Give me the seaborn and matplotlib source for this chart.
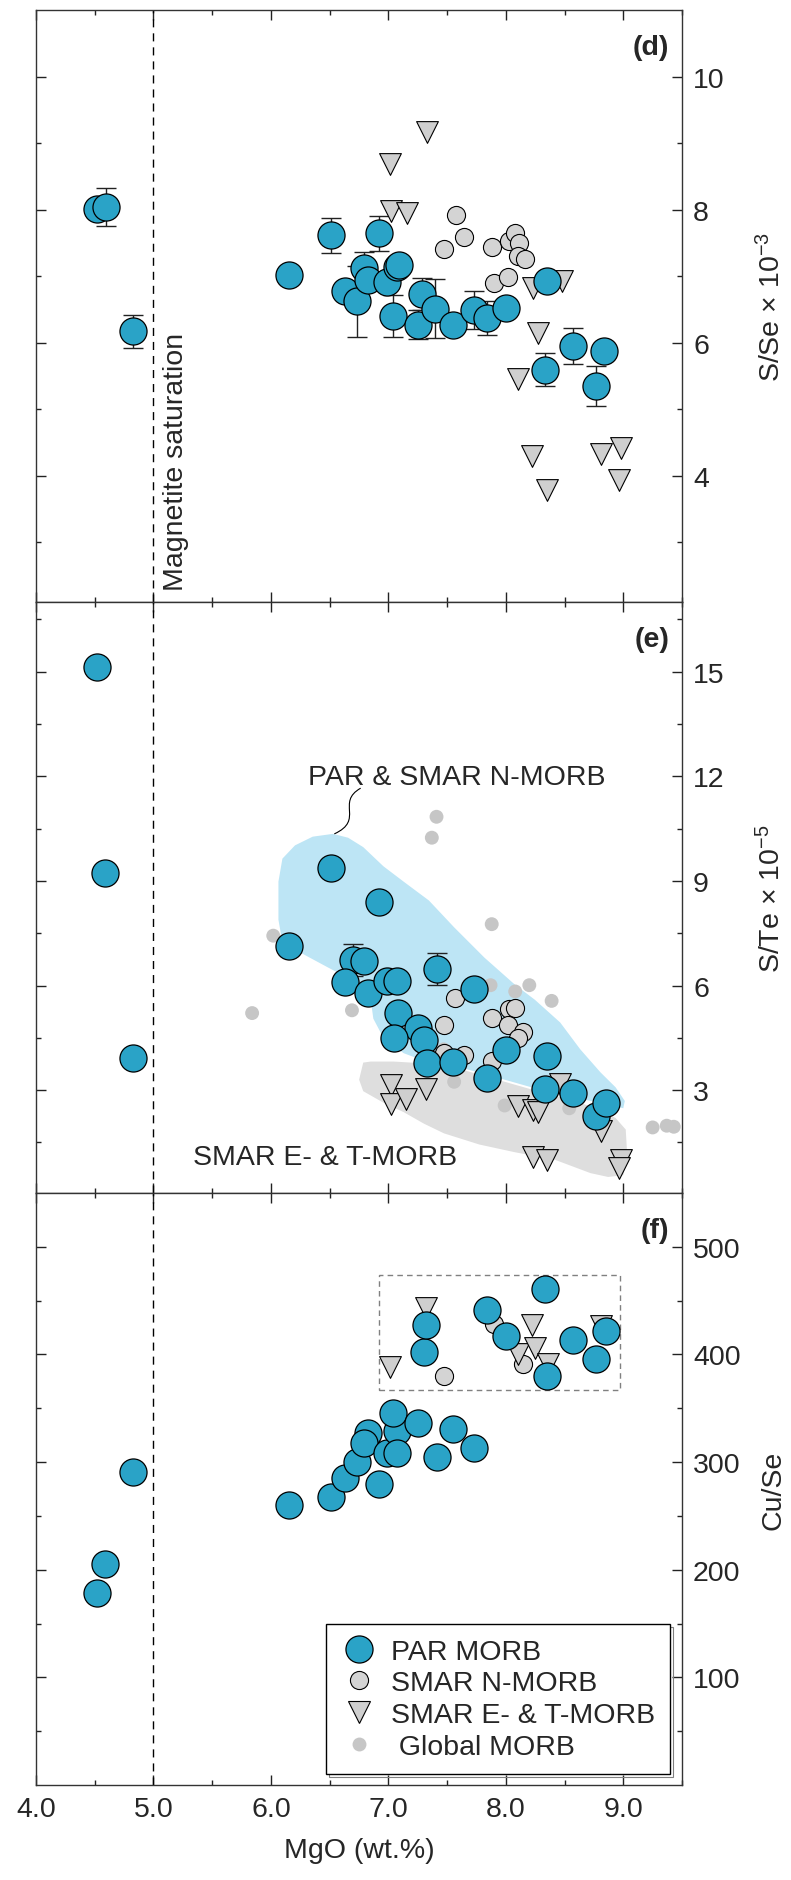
import numpy as np
import matplotlib
matplotlib.use("Agg")
import matplotlib.pyplot as plt
from matplotlib.lines import Line2D
from matplotlib.patches import PathPatch, Rectangle
from matplotlib.path import Path
from matplotlib.ticker import FixedLocator, MultipleLocator, FormatStrFormatter
import seaborn as sns

# ---------------- data ----------------
# (d) S/Se x 10^-3
d_par_mgo = [4.52, 4.60, 4.83, 6.15, 6.51, 6.63, 6.73, 6.79, 6.83, 6.92, 6.99, 7.04, 7.07,
             7.09, 7.25, 7.29, 7.40, 7.55, 7.73, 7.84, 8.00, 8.35, 8.33, 8.57, 8.84, 8.77]
d_par_ratio = [8.01, 8.04, 6.17, 7.01, 7.61, 6.77, 6.62, 7.12, 6.94, 7.64, 6.91, 6.40, 7.13,
               7.16, 6.27, 6.73, 6.51, 6.27, 6.49, 6.37, 6.52, 6.92, 5.59, 5.95, 5.88, 5.35]
d_par_err = [0.0, 0.28, 0.25, 0.0, 0.27, 0.0, 0.53, 0.24, 0.0, 0.27, 0.0, 0.31, 0.0,
             0.0, 0.22, 0.24, 0.44, 0.0, 0.28, 0.25, 0.0, 0.0, 0.25, 0.27, 0.0, 0.30]
d_nmorb_mgo = [7.58, 7.47, 7.64, 7.88, 8.03, 8.08, 8.11, 8.10, 8.16, 7.90, 8.02]
d_nmorb_ratio = [7.92, 7.41, 7.58, 7.43, 7.52, 7.64, 7.50, 7.30, 7.26, 6.90, 6.98]
d_etmorb_mgo = [7.33, 7.01, 7.02, 7.16, 8.23, 8.48, 8.27, 8.10, 8.22, 8.35, 8.81, 8.98, 8.96]
d_etmorb_ratio = [9.17, 8.69, 7.98, 7.95, 6.82, 6.93, 6.14, 5.45, 4.29, 3.79, 4.32, 4.41, 3.94]

# (e) S/Te x 10^-5
e_par_mgo = [4.52, 4.59, 4.83, 6.15, 6.51, 6.92, 6.70, 6.79, 6.63, 6.83, 6.99, 7.07, 7.08,
             7.25, 7.30, 7.05, 7.33, 7.55, 7.41, 7.73, 7.84, 8.00, 8.35, 8.33, 8.57, 8.77, 8.85]
e_par_ratio = [15.15, 9.22, 3.91, 7.12, 9.38, 8.40, 6.74, 6.71, 6.11, 5.79, 6.14, 6.14, 5.21,
               4.77, 4.44, 4.50, 3.79, 3.81, 6.47, 5.90, 3.35, 4.15, 3.98, 3.04, 2.93, 2.26, 2.64]
e_par_err = [0.0, 0.0, 0.0, 0.0, 0.0, 0.0, 0.46, 0.0, 0.0, 0.0, 0.0, 0.0, 0.0,
             0.0, 0.0, 0.0, 0.0, 0.0, 0.45, 0.0, 0.0, 0.0, 0.0, 0.0, 0.0, 0.0, 0.0]
e_nmorb_mgo = [7.57, 7.47, 7.88, 8.03, 8.08, 8.02, 8.15, 8.10, 7.47, 7.64, 7.88]
e_nmorb_ratio = [5.65, 4.88, 5.07, 5.32, 5.35, 4.88, 4.66, 4.50, 4.06, 4.01, 3.84]
e_etmorb_mgo = [7.02, 7.02, 7.15, 7.32, 8.10, 8.23, 8.27, 8.46, 8.81, 8.23, 8.35, 8.98, 8.96]
e_etmorb_ratio = [3.15, 2.60, 2.76, 3.02, 2.55, 2.44, 2.38, 3.19, 1.82, 1.09, 1.00, 1.00, 0.78]
e_global_mgo = [6.02, 5.84, 6.69, 7.41, 7.37, 7.88, 7.87, 8.08, 8.20, 8.39, 7.56, 7.99,
                8.54, 9.25, 9.37, 9.43, 7.47]
e_global_ratio = [7.43, 5.21, 5.29, 10.84, 10.24, 7.76, 6.01, 5.83, 6.01, 5.56, 3.24, 2.56,
                  2.48, 1.93, 1.98, 1.95, 4.17]

# fields outlined in (e)
nmorb_field_mgo = [6.528, 6.356, 6.205, 6.098, 6.064, 6.064, 6.098, 6.270, 6.485, 6.700, 6.850,
                   6.872, 6.958, 7.130, 7.345, 7.646, 7.990, 8.334, 8.634, 8.893, 9.000, 9.013,
                   8.935, 8.806, 8.634, 8.463, 8.248, 8.076, 7.818, 7.560, 7.345, 7.130, 6.958,
                   6.786, 6.657]
nmorb_field_ratio = [10.35, 10.27, 10.02, 9.64, 8.98, 7.89, 7.23, 6.91, 6.52, 6.14, 5.59,
                     5.05, 4.50, 4.06, 3.79, 3.62, 3.30, 2.97, 2.75, 2.58, 2.48, 2.69,
                     3.08, 3.51, 4.17, 4.94, 5.59, 6.03, 6.80, 7.67, 8.44, 8.98, 9.42,
                     9.97, 10.24]
etmorb_field_mgo = [6.786, 6.751, 6.786, 6.958, 7.130, 7.302, 7.474, 7.775, 8.076, 8.420, 8.721,
                    8.871, 9.000, 9.034, 9.021, 8.935, 8.806, 8.634, 8.334, 7.990, 7.646, 7.345,
                    7.044, 6.850]
etmorb_field_ratio = [3.79, 3.30, 2.97, 2.64, 2.37, 2.04, 1.76, 1.44, 1.22, 1.00, 0.62,
                      0.51, 0.56, 1.11, 1.87, 2.20, 2.42, 2.64, 2.91, 3.24, 3.57, 3.76,
                      3.82, 3.82]

# (f) Cu/Se
f_par_mgo = [4.52, 4.59, 4.83, 6.15, 6.51, 6.63, 6.73, 6.83, 6.79, 6.92, 6.99, 7.07, 7.04,
             7.07, 7.25, 7.41, 7.55, 7.73, 7.30, 7.32, 7.84, 8.00, 8.33, 8.35, 8.57, 8.77, 8.85]
f_par_ratio = [178, 205, 291, 260, 268, 285, 300, 327, 318, 280, 308, 329, 346,
               308, 336, 305, 331, 313, 402, 427, 441, 417, 461, 380, 413, 396, 422]
f_nmorb_mgo = [7.47, 7.90, 8.15]
f_nmorb_ratio = [380, 428, 391]
f_etmorb_mgo = [7.01, 7.32, 8.22, 8.10, 8.25, 8.36, 8.81]
f_etmorb_ratio = [388, 443, 427, 400, 406, 391, 426]
f_box_mgo = [6.92, 8.97]
f_box_ratio = [367, 474]

magnetite_mgo = 5.0

# ---------------- style ----------------
sns.set_style("ticks")
plt.rcParams["font.family"] = ["Liberation Sans", "DejaVu Sans"]
plt.rcParams["mathtext.fontset"] = "custom"
plt.rcParams["mathtext.rm"] = "Liberation Sans"
plt.rcParams["mathtext.it"] = "Liberation Sans:italic"
plt.rcParams["mathtext.bf"] = "Liberation Sans:bold"

FS = 20.5
BLUE = "#2aa3c7"
NGREY = "#d4d4d4"
TGREY = "#cfcfcf"
GGREY = "#c6c6c6"
FIELD_BLUE = "#bde5f5"
FIELD_GREY = "#dedede"

S_PAR, S_N, S_T, S_G = 380, 170, 245, 100

W, H = 791, 1881
fig = plt.figure(figsize=(W / 100, H / 100), dpi=100)
L = 36 / W
AW = 646 / W
ax_d = fig.add_axes([L, 1 - 603 / H, AW, 592 / H])
ax_e = fig.add_axes([L, 1 - 1194 / H, AW, 591 / H])
ax_f = fig.add_axes([L, 1 - 1786 / H, AW, 592 / H])
axes = [ax_d, ax_e, ax_f]


def draw_errors(ax, x, y, err):
    x, y, err = np.asarray(x), np.asarray(y), np.asarray(err)
    m = err > 0
    ax.errorbar(x[m], y[m], yerr=err[m], fmt="none", ecolor="#222222",
                elinewidth=1.0, capsize=7, capthick=1.0, zorder=3)


def scatter(ax, x, y, kind):
    if kind == "par":
        sns.scatterplot(x=x, y=y, ax=ax, marker="o", s=S_PAR, color=BLUE,
                        edgecolor="black", linewidth=0.9, zorder=5, legend=False)
    elif kind == "n":
        sns.scatterplot(x=x, y=y, ax=ax, marker="o", s=S_N, color=NGREY,
                        edgecolor="black", linewidth=0.8, zorder=4, legend=False)
    elif kind == "t":
        sns.scatterplot(x=x, y=y, ax=ax, marker="v", s=S_T, color=TGREY,
                        edgecolor="black", linewidth=0.8, zorder=4, legend=False)
    else:
        sns.scatterplot(x=x, y=y, ax=ax, marker="o", s=S_G, color=GGREY,
                        edgecolor="none", linewidth=0, zorder=2, legend=False)


# (d)
draw_errors(ax_d, d_par_mgo, d_par_ratio, d_par_err)
scatter(ax_d, d_nmorb_mgo, d_nmorb_ratio, "n")
scatter(ax_d, d_etmorb_mgo, d_etmorb_ratio, "t")
scatter(ax_d, d_par_mgo, d_par_ratio, "par")
ax_d.set_ylim(2.1, 11.0)
ax_d.yaxis.set_major_locator(FixedLocator([4, 6, 8, 10]))
ax_d.yaxis.set_minor_locator(FixedLocator([3, 5, 7, 9]))
ax_d.text(5.19, 2.28, "Magnetite saturation", rotation=90, ha="center", va="bottom",
          fontsize=FS)

# (e)
ax_e.fill(etmorb_field_mgo, etmorb_field_ratio, color=FIELD_GREY, lw=0, zorder=0.5)
ax_e.fill(nmorb_field_mgo, nmorb_field_ratio, color=FIELD_BLUE, lw=0, zorder=0.6)
scatter(ax_e, e_global_mgo, e_global_ratio, "g")
draw_errors(ax_e, e_par_mgo, e_par_ratio, e_par_err)
scatter(ax_e, e_nmorb_mgo, e_nmorb_ratio, "n")
scatter(ax_e, e_etmorb_mgo, e_etmorb_ratio, "t")
scatter(ax_e, e_par_mgo, e_par_ratio, "par")
ax_e.set_ylim(0.05, 17.0)
ax_e.yaxis.set_major_locator(FixedLocator([3, 6, 9, 12, 15]))
ax_e.yaxis.set_minor_locator(FixedLocator([1.5, 4.5, 7.5, 10.5, 13.5, 16.5]))
ax_e.text(7.58, 11.99, "PAR & SMAR N-MORB", ha="center", va="center", fontsize=FS)
ax_e.text(6.46, 1.09, "SMAR E- & T-MORB", ha="center", va="center", fontsize=FS)
leader = Path([(6.764, 11.66), (6.55, 11.25), (6.80, 10.75), (6.54, 10.35)],
              [Path.MOVETO, Path.CURVE4, Path.CURVE4, Path.CURVE4])
ax_e.add_patch(PathPatch(leader, fill=False, lw=0.8, edgecolor="black", zorder=6))

# (f)
scatter(ax_f, f_nmorb_mgo, f_nmorb_ratio, "n")
scatter(ax_f, f_etmorb_mgo, f_etmorb_ratio, "t")
scatter(ax_f, f_par_mgo, f_par_ratio, "par")
ax_f.add_patch(Rectangle((f_box_mgo[0], f_box_ratio[0]), f_box_mgo[1] - f_box_mgo[0],
                         f_box_ratio[1] - f_box_ratio[0], fill=False, edgecolor="#808080",
                         lw=1.0, linestyle=(0, (4, 3)), zorder=1))
ax_f.set_ylim(0, 550)
ax_f.yaxis.set_major_locator(FixedLocator([100, 200, 300, 400, 500]))
ax_f.yaxis.set_minor_locator(FixedLocator([50, 150, 250, 350, 450]))

ylabels = [r"S/Se $\times$ 10$^{-3}$", r"S/Te $\times$ 10$^{-5}$", "Cu/Se"]
tags = ["(d)", "(e)", "(f)"]

for ax, lab, tag in zip(axes, ylabels, tags):
    ax.axvline(magnetite_mgo, color="black", lw=1.0, linestyle=(0, (5.8, 4.3)), zorder=1)
    ax.set_xlim(4.0, 9.5)
    ax.xaxis.set_major_locator(MultipleLocator(1.0))
    ax.xaxis.set_minor_locator(MultipleLocator(0.5))
    ax.tick_params(which="both", direction="in", top=True, bottom=True, left=True,
                   right=True, labelleft=False, labelright=True, labelbottom=False,
                   labelsize=FS, pad=8, color="#222222")
    ax.tick_params(which="major", length=7, width=1.0)
    ax.tick_params(which="minor", length=3.3, width=1.0)
    for sp in ax.spines.values():
        sp.set_linewidth(1.0)
        sp.set_color("#333333")
    ax.set_xlabel("")
    ax.yaxis.set_label_position("right")
    ax.set_ylabel(lab, fontsize=FS)
    ax.yaxis.label.set_verticalalignment("baseline")
    ax.yaxis.set_label_coords(1.152, 0.5)
    ax.text(0.98, 0.937, tag, transform=ax.transAxes, ha="right", va="center",
            fontsize=FS, fontweight="bold")

ax_f.tick_params(labelbottom=True)
ax_f.xaxis.set_major_formatter(FormatStrFormatter("%.1f"))
ax_f.set_xlabel("MgO (wt.%)", fontsize=FS, labelpad=11)

handles = [
    Line2D([], [], ls="none", marker="o", ms=np.sqrt(S_PAR), mfc=BLUE, mec="black", mew=0.9),
    Line2D([], [], ls="none", marker="o", ms=np.sqrt(S_N), mfc=NGREY, mec="black", mew=0.8),
    Line2D([], [], ls="none", marker="v", ms=np.sqrt(S_T), mfc=TGREY, mec="black", mew=0.8),
    Line2D([], [], ls="none", marker="o", ms=np.sqrt(S_G), mfc=GGREY, mec="none"),
]
labels = ["PAR MORB", "SMAR N-MORB", "SMAR E- & T-MORB", " Global MORB"]
leg = ax_f.legend(handles, labels, loc="lower right", bbox_to_anchor=(0.981, 0.0186),
                  borderaxespad=0, frameon=True, fancybox=False, edgecolor="black",
                  framealpha=1, fontsize=FS, handlelength=1.3, handletextpad=0.49,
                  borderpad=0.5, labelspacing=0.2,
                  shadow={"facecolor": "none", "edgecolor": "0.5", "alpha": 1,
                          "linewidth": 0.8})
leg.get_frame().set_linewidth(1.0)
leg.set_zorder(10)

fig.savefig("out.png", dpi=100)
